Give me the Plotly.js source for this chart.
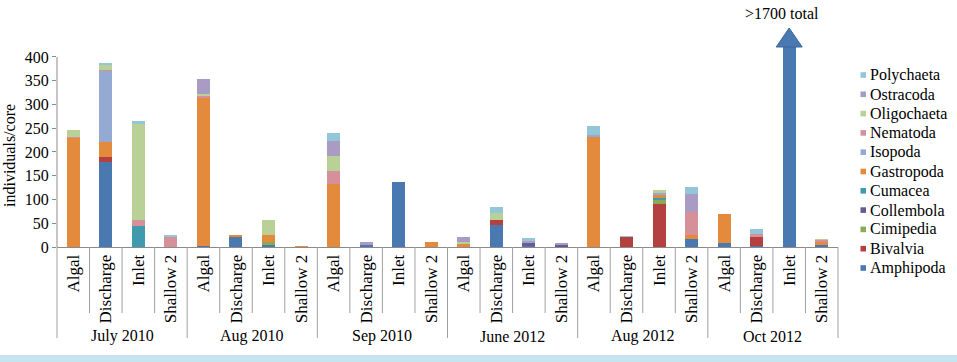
<!DOCTYPE html>
<html><head><meta charset="utf-8">
<script src="https://cdn.plot.ly/plotly-3.0.1.min.js"></script>
<style>html,body{margin:0;padding:0;background:#fff}#chart{width:957px;height:362px}</style>
</head><body><div id="chart"></div>
<script>
// ---- data ----
const months = ["July 2010", "Aug 2010", "Sep 2010", "June 2012", "Aug 2012", "Oct 2012"];
const sites = ["Algal", "Discharge", "Inlet", "Shallow 2"];
const yTicks = [0, 50, 100, 150, 200, 250, 300, 350, 400];

// values per sample (July 2010 Algal ... Oct 2012 Shallow 2)
const Amphipoda   = [0,178,0,0,   3,22,5,0,   0,5,136,0,   0,47,3,0,   0,0,0,16,   8,3,1700,5];
const Bivalvia    = [0,11,0,0,    0,0,0,0,    0,0,0,0,     0,10,0,0,   0,21,91,0,  0,18,0,0];
const Cimipedia   = [0,0,0,0,     0,0,6,0,    0,0,0,0,     0,0,0,0,    0,0,7,0,    0,0,0,0];
const Collembola  = [0,0,0,0,     0,0,0,0,    0,0,0,0,     0,0,5,5,    0,0,0,0,    0,0,0,0];
const Cumacea     = [0,0,44,0,    0,0,0,0,    0,0,0,0,     0,0,0,0,    0,0,6,0,    0,0,0,0];
const Gastropoda  = [230,32,0,0,  311,4,15,2, 133,0,0,10,  7,0,0,0,    231,0,5,9,  61,0,0,6];
const Isopoda     = [0,150,0,0,   0,0,0,0,    0,0,0,0,     0,0,0,0,    5,0,5,0,    0,0,0,0];
const Nematoda    = [2,2,12,22,   3,0,0,0,    27,0,0,0,    0,0,0,0,    0,0,0,48,   0,6,0,3];
const Oligochaeta = [14,10,202,0, 5,0,30,0,   31,0,0,0,    4,14,0,0,   0,0,7,0,    0,0,0,2];
const Ostracoda   = [0,0,0,0,     31,0,0,0,   32,5,0,0,    10,0,5,3,   0,0,0,39,   0,0,0,0];
const Polychaeta  = [0,5,7,3,     0,0,0,0,    17,0,1,0,    0,14,5,0,   19,3,0,15,  0,10,0,0];

const taxa = ["Amphipoda","Bivalvia","Cimipedia","Collembola","Cumacea","Gastropoda",
              "Isopoda","Nematoda","Oligochaeta","Ostracoda","Polychaeta"];
const series = [Amphipoda,Bivalvia,Cimipedia,Collembola,Cumacea,Gastropoda,
                Isopoda,Nematoda,Oligochaeta,Ostracoda,Polychaeta];
const colors = ["#4A78B0","#B4413F","#8CAA52","#6B5A91","#3F9AAE","#E38A3C",
                "#95AAD3","#D6909A","#B9D196","#A99BC4","#92C6D8"];

const arrowNote = ">1700 total";
const arrowIndex = 22;
const yTitle = "individuals/core";

// ---- build ----
const keys = [], tickText = [];
months.forEach(m => sites.forEach(s => { keys.push(m + " | " + s); tickText.push(s); }));
const N = keys.length;

const FONT = "Liberation Serif, Times New Roman, serif";
const traces = series.map((vals, i) => ({
  type: "bar", x: keys, y: vals, name: taxa[i], showlegend: false,
  marker: {color: colors[i], line: {width: 0}}, hoverinfo: "x+y+name"
}));

const W = 957, ML = 57, MR = 119, MT = 47, MB = 115, H = 362;
const PW = W - ML - MR, PH = H - MT - MB;
const YMAX = 421;
const pxX = p => (p - ML) / PW;          // pixel column -> paper x (decorations)
const pxY = p => (H - MB - p) / PH;      // pixel row -> paper y (decorations)

const shapes = [];
// y axis line 0..400
shapes.push({type: "line", xref: "paper", yref: "y", x0: 0, x1: 0, y0: 0, y1: yTicks[yTicks.length-1],
             line: {color: "#8a8a8a", width: 1}});
// category separators
for (let k = 0; k <= N; k++) {
  const isGroup = k % sites.length === 0;
  shapes.push({type: "line", xref: "paper", yref: "paper", x0: k / N, x1: k / N,
               y0: 0, y1: isGroup ? pxY(338) : pxY(313),
               line: {color: "#a0a0a0", width: 1}});
}
// arrow head above the clipped bar
const ax = (arrowIndex + 0.5) / N, hw = 13 / PW;
shapes.push({type: "path", xref: "paper", yref: "paper",
             path: `M ${ax - hw} 1 L ${ax + hw} 1 L ${ax} ${pxY(28)} Z`,
             fillcolor: colors[0], line: {color: "#3d679c", width: 1}});
// bottom light strip
shapes.push({type: "rect", xref: "paper", yref: "paper", x0: -0.2, x1: 1.3,
             y0: pxY(363), y1: pxY(355), fillcolor: "#C5E4EE", line: {width: 0}, layer: "below"});

const annotations = months.map((m, g) => ({
  text: m, xref: "paper", yref: "paper", x: (g * sites.length + sites.length / 2) / N,
  y: pxY(336), xanchor: "center", yanchor: "middle", showarrow: false,
  font: {family: FONT, size: 16, color: "#000"}
}));
annotations.push({text: arrowNote, xref: "paper", yref: "paper", x: pxX(781.5), y: pxY(13.5),
  xanchor: "center", yanchor: "middle", showarrow: false, font: {family: FONT, size: 16, color: "#000"}});
annotations.push({text: yTitle, xref: "paper", yref: "paper", x: pxX(9), y: pxY(156),
  xanchor: "center", yanchor: "middle", textangle: -90, showarrow: false,
  font: {family: FONT, size: 16, color: "#000"}});

// legend (drawn as markers + labels, Polychaeta on top)
const legTop = 75, legStep = 19.3;
for (let j = 0; j < taxa.length; j++) {
  const i = taxa.length - 1 - j;
  const cy = legTop + j * legStep;
  shapes.push({type: "rect", xref: "paper", yref: "paper",
               x0: pxX(860.5), x1: pxX(866), y0: pxY(cy + 2.8), y1: pxY(cy - 2.8),
               fillcolor: colors[i], line: {width: 0}});
  annotations.push({text: taxa[i], xref: "paper", yref: "paper", x: pxX(868), y: pxY(cy),
                    xanchor: "left", yanchor: "middle", showarrow: false,
                    font: {family: FONT, size: 16, color: "#000"}});
}

const layout = {
  width: W, height: H,
  margin: {l: ML, r: MR, t: MT, b: MB, pad: 0},
  paper_bgcolor: "#fff", plot_bgcolor: "#fff",
  barmode: "stack", bargap: 0.6, showlegend: false,
  font: {family: FONT, size: 16, color: "#000"},
  xaxis: {type: "category", tickmode: "array", tickvals: keys, ticktext: tickText,
          tickangle: -90, ticks: "", showgrid: false, zeroline: false,
          showline: true, linecolor: "#8a8a8a", linewidth: 1, automargin: false,
          tickfont: {family: FONT, size: 17, color: "#000"}, ticklabelstandoff: 0},
  yaxis: {range: [0, YMAX], tickmode: "array", tickvals: yTicks, ticks: "outside", ticklen: 4,
          tickcolor: "#8a8a8a", showgrid: false, zeroline: false, showline: false, automargin: false,
          tickfont: {family: FONT, size: 16, color: "#000"}},
  shapes: shapes, annotations: annotations
};

Plotly.newPlot("chart", traces, layout, {displayModeBar: false, staticPlot: true});
</script></body></html>
